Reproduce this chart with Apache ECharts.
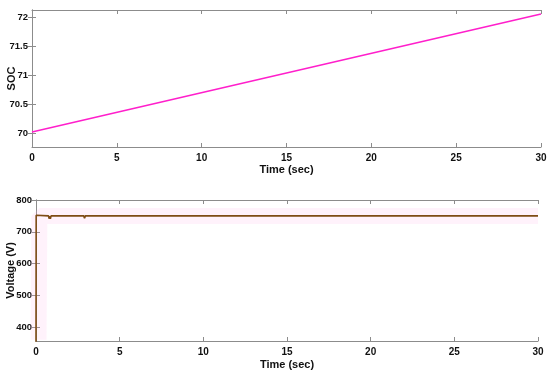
<!DOCTYPE html>
<html><head><meta charset="utf-8">
<script src="https://cdn.jsdelivr.net/npm/echarts@6/dist/echarts.min.js"></script>
<style>html,body{margin:0;padding:0;background:#fff}#c{width:550px;height:375px}</style>
</head><body><div id="c"></div>
<script>
var socTime = [0, 30];
var socValues = [70.02, 72.05];
var voltTime = [0, 0.01, 0.03, 0.06, 0.1, 0.75, 0.78, 0.82, 0.86, 0.9, 0.94, 2.45, 2.48, 2.52, 2.85, 2.9, 2.95, 3.1, 30];
var voltValues = [340, 752, 756, 749, 750, 750, 741, 749, 741, 750, 750, 750, 746, 750, 750, 743, 750, 750, 750];
var bandTime = [0.15, 0.2, 0.4, 30];
var bandValues = [360, 750, 750, 750];
var xTicks = [0, 5, 10, 15, 20, 25, 30];
var socTicks = [70, 70.5, 71, 71.5, 72];
var voltTicks = [400, 500, 600, 700, 800];

function pairs(a, b) { return a.map(function (v, i) { return [v, b[i]]; }); }
var font = 'Liberation Sans, Arial, sans-serif';
var axisCol = '#8c8c8c';
function xAxis(gi, showLabels, pos, gap) {
  return {
    type: 'value', gridIndex: gi, min: 0, max: 30, interval: 5, position: pos,
    name: showLabels ? 'Time (sec)' : '', nameLocation: 'middle', nameGap: gap, nameMoveOverlap: false,
    nameTextStyle: { fontFamily: font, fontWeight: 'bold', fontSize: 11, color: '#111' },
    axisLine: { show: true, lineStyle: { color: axisCol } },
    axisTick: { show: true, inside: true, length: 4, lineStyle: { color: axisCol } },
    axisLabel: { show: showLabels, fontFamily: font, fontWeight: 'bold', fontSize: 10, color: '#111', margin: 6 },
    splitLine: { show: false }
  };
}
function yAxis(gi, min, max, ticks, name, showLabels, pos, gap) {
  return {
    type: 'value', gridIndex: gi, min: min, max: max, position: pos,
    name: showLabels ? name : '', nameLocation: 'middle', nameGap: gap, nameRotate: 90, nameMoveOverlap: false,
    nameTextStyle: { fontFamily: font, fontWeight: 'bold', fontSize: 11, color: '#111' },
    axisLine: { show: true, lineStyle: { color: axisCol } },
    axisTick: { show: true, inside: true, length: 4, customValues: ticks, lineStyle: { color: axisCol } },
    axisLabel: { show: showLabels, customValues: ticks, fontFamily: font, fontWeight: 'bold', fontSize: 9.5, color: '#111', margin: 4 },
    splitLine: { show: false }
  };
}
var chart = echarts.init(document.getElementById('c'), null, { renderer: 'canvas' });
chart.setOption({
  animation: false,
  grid: [
    { left: 32, right: 9, top: 10, height: 137, containLabel: false, outerBoundsMode: 'none' },
    { left: 36, right: 12, top: 200, height: 141, containLabel: false, outerBoundsMode: 'none' }
  ],
  xAxis: [xAxis(0, true, 'bottom', 17), xAxis(0, false, 'top', 17), xAxis(1, true, 'bottom', 18), xAxis(1, false, 'top', 18)],
  yAxis: [
    yAxis(0, 69.76, 72.12, socTicks, 'SOC', true, 'left', 15),
    yAxis(0, 69.76, 72.12, socTicks, 'SOC', false, 'right', 15),
    yAxis(1, 356, 800, voltTicks, 'Voltage (V)', true, 'left', 20),
    yAxis(1, 356, 800, voltTicks, 'Voltage (V)', false, 'right', 20)
  ],
  series: [
    { type: 'line', xAxisIndex: 0, yAxisIndex: 0, data: pairs(socTime, socValues), showSymbol: false,
      lineStyle: { color: '#ff1fcb', width: 1.5 } },
    { type: 'line', xAxisIndex: 2, yAxisIndex: 2, data: pairs(bandTime, bandValues), showSymbol: false, clip: true,
      lineStyle: { color: 'rgba(255,170,225,0.15)', width: 16 } },
    { type: 'line', xAxisIndex: 2, yAxisIndex: 2, data: pairs(voltTime, voltValues), showSymbol: false, clip: true,
      lineStyle: { color: '#7e4c14', width: 1.6 } }
  ]
});
</script></body></html>
